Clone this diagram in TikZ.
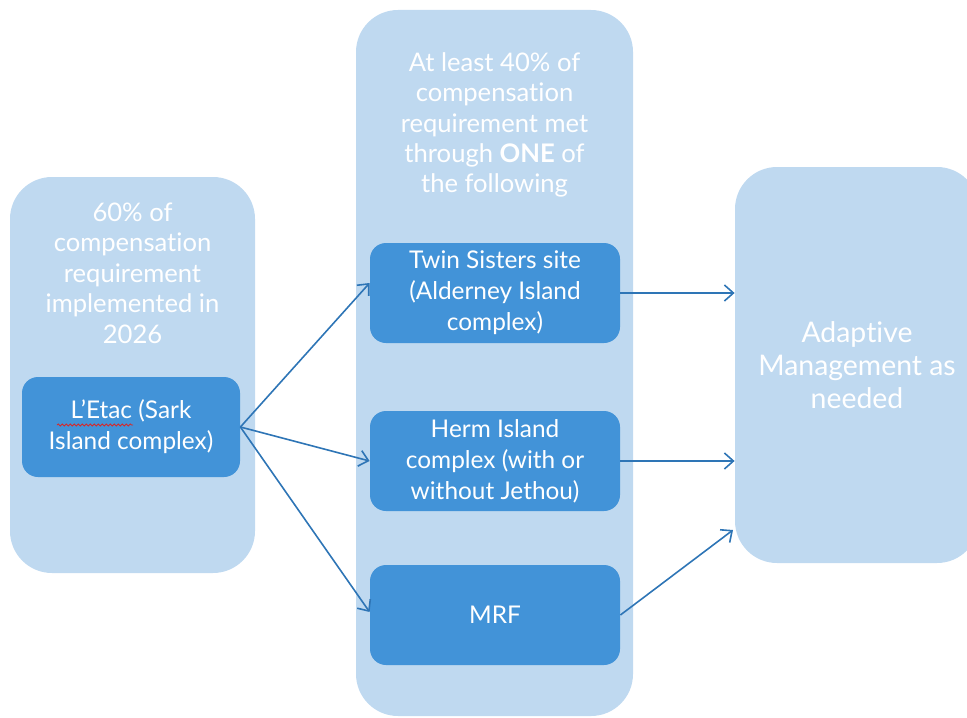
\documentclass[tikz,border=0pt]{standalone}
\usepackage{fontspec}
\setmainfont{Lato}[Ligatures=NoCommon]
\usetikzlibrary{arrows.meta,decorations.pathmorphing}

\definecolor{paleblue}{RGB}{191,217,240}
\definecolor{boxblue}{RGB}{66,147,216}
\definecolor{linkblue}{RGB}{46,117,182}
\definecolor{spellred}{RGB}{214,40,40}

\begin{document}
\begin{tikzpicture}[x=0.5pt,y=-0.5pt,
    panel/.style={fill=paleblue, rounded corners=21pt},
    paneltext/.style={text=white, align=center, font=\fontsize{12.8}{15.2}\selectfont},
    item/.style={fill=boxblue, rounded corners=8pt, text=white, align=center,
      minimum width=125pt, minimum height=50pt, font=\fontsize{12.2}{15.5}\selectfont},
    flow/.style={draw=linkblue, line width=0.8pt, -{Straight Barb[length=4.5pt,width=8pt]}}
    ]
    \clip (0,0) rectangle (967,717);

    % background panels
    \node[panel, minimum width=122.5pt, minimum height=198pt] (first) at (132.5,375) {};
    \node[panel, minimum width=138.5pt, minimum height=353pt] (second) at (494.5,363) {};
    \node[panel, minimum width=122pt, minimum height=198pt, text=white, align=center,
      font=\fontsize{14.2}{16.5}\selectfont] (adapt) at (857,365)
      {Adaptive\\Management as\\needed};

    \node[paneltext] (firsttext) at (132.5,273)
      {60\% of\\compensation\\requirement\\implemented in\\2026};
    \node[paneltext] (secondtext) at (494.5,125)
      {At least 40\% of\\compensation\\requirement met\\through \textbf{ONE} of\\the following};

    % boxes
    \node[item, minimum width=109pt] (letac) at (131,427) {L’Etac (Sark\\Island complex)};
    \node[item] (twin) at (495,293) {Twin Sisters site\\(Alderney Island\\complex)};
    \node[item] (herm) at (495,461) {Herm Island\\complex (with or\\without Jethou)};
    \node[item] (mrf) at (495,615) {MRF};

    % spelling mark under L'Etac
    \draw[spellred, line width=0.4pt, decorate,
      decoration={snake, amplitude=0.5pt, segment length=2pt}] (57,425) -- (133,425);

    % connectors
    \coordinate (adaptin) at (733,530);
    \draw[flow] (letac.east) -- ([yshift=5pt]twin.west);
    \draw[flow] (letac.east) -- (herm.west);
    \draw[flow] (letac.east) -- ([yshift=1.5pt]mrf.west);
    \draw[flow] (twin.east) -- (twin.east -| adapt.west);
    \draw[flow] (herm.east) -- (herm.east -| adapt.west);
    \draw[flow] (mrf.east) -- (adaptin);
  \end{tikzpicture}
\end{document}
